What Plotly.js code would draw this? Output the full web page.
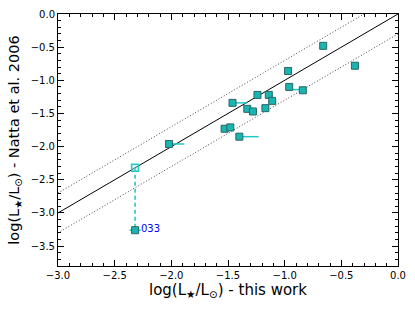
<!DOCTYPE html>
<html>
<head>
<meta charset="utf-8">
<script src="https://cdn.plot.ly/plotly-3.0.1.min.js"></script>
<style>html,body{margin:0;padding:0;background:#fff}#chart{width:415px;height:312px}</style>
</head>
<body>
<div id="chart"></div>
<script>
// Filled squares: log L this work vs Natta et al. 2006
const ptsX = [-0.66, -0.38, -0.97, -0.96, -0.84, -1.24, -1.14, -1.11, -1.46, -1.33, -1.28, -1.17, -1.53, -1.48, -1.40, -2.02, -2.32];
const ptsY = [-0.48, -0.78, -0.86, -1.10, -1.15, -1.22, -1.22, -1.31, -1.34, -1.43, -1.47, -1.42, -1.73, -1.71, -1.85, -1.96, -3.26];
// Horizontal bars (start x, end x, y)
const barX0 = [-1.46, -1.40, -2.02, -0.96, -2.37];
const barX1 = [-1.335, -1.23, -1.885, -0.84, -2.27];
const barY  = [-1.34, -1.85, -1.96, -1.14, -3.26];
// Open square (revised value of object 033) and its link to the old one
const openX = [-2.32];
const openY = [-2.32];
const linkX = [-2.32, -2.32];
const linkY = [-2.32, -3.26];
const labelText = "033";
const labelX = -2.285;
const labelY = -3.24;
// One-to-one relation and +-0.3 dex band
const relX = [-3.0, 0.0];
const bandOffsets = [0.3, -0.3];

const traces = [];
traces.push({x: relX, y: relX.map(v => v), mode: 'lines', line: {color: '#000', width: 1}, hoverinfo: 'skip'});
bandOffsets.forEach(o => {
  traces.push({x: relX, y: relX.map(v => v + o), mode: 'lines', line: {color: '#444', width: 1, dash: '1px,2px'}, hoverinfo: 'skip'});
});
const bx = [], by = [];
for (let i = 0; i < barX0.length; i++) { bx.push(barX0[i], barX1[i], null); by.push(barY[i], barY[i], null); }
traces.push({x: bx, y: by, mode: 'lines', line: {color: '#22c8c8', width: 1.5}, hoverinfo: 'skip'});
traces.push({x: linkX, y: linkY, mode: 'lines', line: {color: '#22c0c0', width: 1.5, dash: '4px,3px'}, hoverinfo: 'skip'});
traces.push({x: ptsX, y: ptsY, mode: 'markers', marker: {symbol: 'square', size: 7, color: '#1ab5b0', line: {color: '#2a6666', width: 1}}});
traces.push({x: openX, y: openY, mode: 'markers', marker: {symbol: 'square', size: 7, color: 'rgba(150,230,230,0.35)', line: {color: '#22c8c8', width: 1.5}}});

const axisCommon = {
  showgrid: false, zeroline: false, showline: true, linecolor: '#000', linewidth: 1, mirror: 'ticks',
  ticks: 'inside', ticklen: 6, tickwidth: 1, tickcolor: '#000', dtick: 0.5, tickformat: '.1f',
  tickfont: {family: 'DejaVu Sans', size: 10, color: '#000'},
  minor: {ticks: 'inside', ticklen: 3, dtick: 0.1, tickcolor: '#000', tickwidth: 1}
};

const layout = {
  width: 415, height: 312,
  margin: {l: 58, r: 17, t: 14, b: 46},
  paper_bgcolor: '#fff', plot_bgcolor: '#fff',
  showlegend: false,
  font: {family: 'DejaVu Sans', color: '#000'},
  xaxis: Object.assign({}, axisCommon, {range: [-3.0, 0.0], tick0: 0,
    title: {text: 'log(L<sub>★</sub>/L<sub>⊙</sub>) - this work', font: {family: 'DejaVu Sans', size: 15}, standoff: 4}}),
  yaxis: Object.assign({}, axisCommon, {range: [-3.8, 0.0], tick0: 0,
    title: {text: 'log(L<sub>★</sub>/L<sub>⊙</sub>) - Natta et al. 2006', font: {family: 'DejaVu Sans', size: 14.5}, standoff: 7}}),
  annotations: [{x: labelX, y: labelY, text: labelText, showarrow: false, xanchor: 'left', yanchor: 'middle',
    font: {family: 'DejaVu Sans', size: 10, color: '#0000ff'}}]
};

Plotly.newPlot('chart', traces, layout, {staticPlot: true, displayModeBar: false});
</script>
</body>
</html>
